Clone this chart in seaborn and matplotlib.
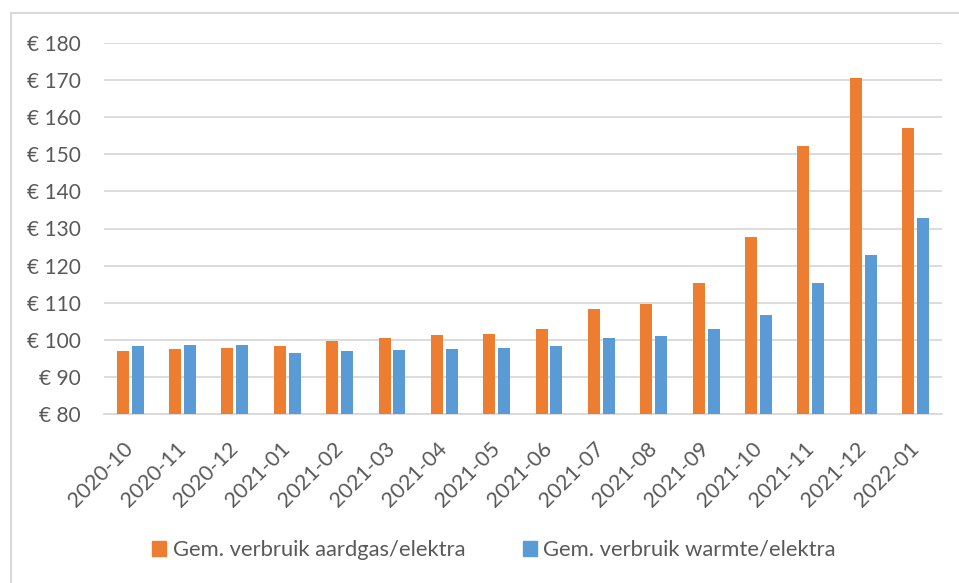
import matplotlib
matplotlib.use("Agg")
import matplotlib.pyplot as plt
from matplotlib.lines import Line2D
import seaborn as sns
import pandas as pd

months = ["2020-10", "2020-11", "2020-12", "2021-01", "2021-02", "2021-03", "2021-04", "2021-05",
          "2021-06", "2021-07", "2021-08", "2021-09", "2021-10", "2021-11", "2021-12", "2022-01"]
gas = [97.1, 97.5, 97.7, 98.2, 99.6, 100.6, 101.3, 101.5,
       102.9, 108.2, 109.6, 115.2, 127.7, 152.2, 170.5, 157.2]
warmte = [98.3, 98.5, 98.5, 96.4, 97.0, 97.3, 97.5, 97.8,
          98.3, 100.6, 101.0, 103.0, 106.7, 115.3, 122.9, 132.7]
series_names = ["Gem. verbruik aardgas/elektra", "Gem. verbruik warmte/elektra"]
yticks = [80, 90, 100, 110, 120, 130, 140, 150, 160, 170, 180]

df = pd.DataFrame({
    "maand": months * 2,
    "waarde": gas + warmte,
    "serie": [series_names[0]] * len(months) + [series_names[1]] * len(months),
})

sns.set_style("white")
plt.rcParams["font.family"] = ["Lato", "DejaVu Sans"]

fig = plt.figure(figsize=(9.59, 5.83), dpi=100)
ax = fig.add_axes([104 / 959, 1 - 414 / 583, (941.7 - 104) / 959, (414 - 43) / 583])

palette = {series_names[0]: "#ED7D31", series_names[1]: "#5B9BD5"}
sns.barplot(data=df, x="maand", y="waarde", hue="serie", order=months, hue_order=series_names,
            palette=palette, width=0.566, gap=0.19, saturation=1, ax=ax, zorder=3,
            edgecolor="none")

ax.set_ylim(80, 180)
ax.set_yticks(yticks)
ax.set_yticklabels([f"€ {v}" for v in yticks])
ax.set_xlim(-0.5, len(months) - 0.5)
ax.grid(axis="y", color="#D9D9D9", linewidth=1.3, zorder=0)
ax.grid(axis="x", visible=False)
for s in ["top", "right", "left"]:
    ax.spines[s].set_visible(False)
ax.spines["bottom"].set_color("#D9D9D9")
ax.spines["bottom"].set_linewidth(1.3)
ax.set_xlabel("")
ax.set_ylabel("")
ax.tick_params(axis="y", length=0, pad=16.5, labelsize=15, labelcolor="#595959")
ax.tick_params(axis="x", length=0, pad=23, labelsize=15.5, labelcolor="#595959")
for lbl in ax.get_xticklabels():
    lbl.set_rotation(45)
    lbl.set_ha("right")
    lbl.set_va("center")
    lbl.set_rotation_mode("anchor")

ax.legend_.remove()
handles = [plt.Rectangle((0, 0), 1, 1, color=palette[n]) for n in series_names]
fig.legend(handles, series_names, loc="center", bbox_to_anchor=(494 / 959, 1 - 550 / 583),
           ncol=2, frameon=False, fontsize=15.8, labelcolor="#595959",
           handlelength=0.65, handleheight=0.65, handletextpad=0.3, columnspacing=2.6)

# chart frame (top and left edges visible)
fx = 11 / 959
fy = 1 - 13 / 583
fig.add_artist(Line2D([fx, 1], [fy, fy], transform=fig.transFigure, color="#D9D9D9", linewidth=1.5))
fig.add_artist(Line2D([fx, fx], [fy, 0], transform=fig.transFigure, color="#D9D9D9", linewidth=1.5))

fig.savefig("out.png", dpi=100)
